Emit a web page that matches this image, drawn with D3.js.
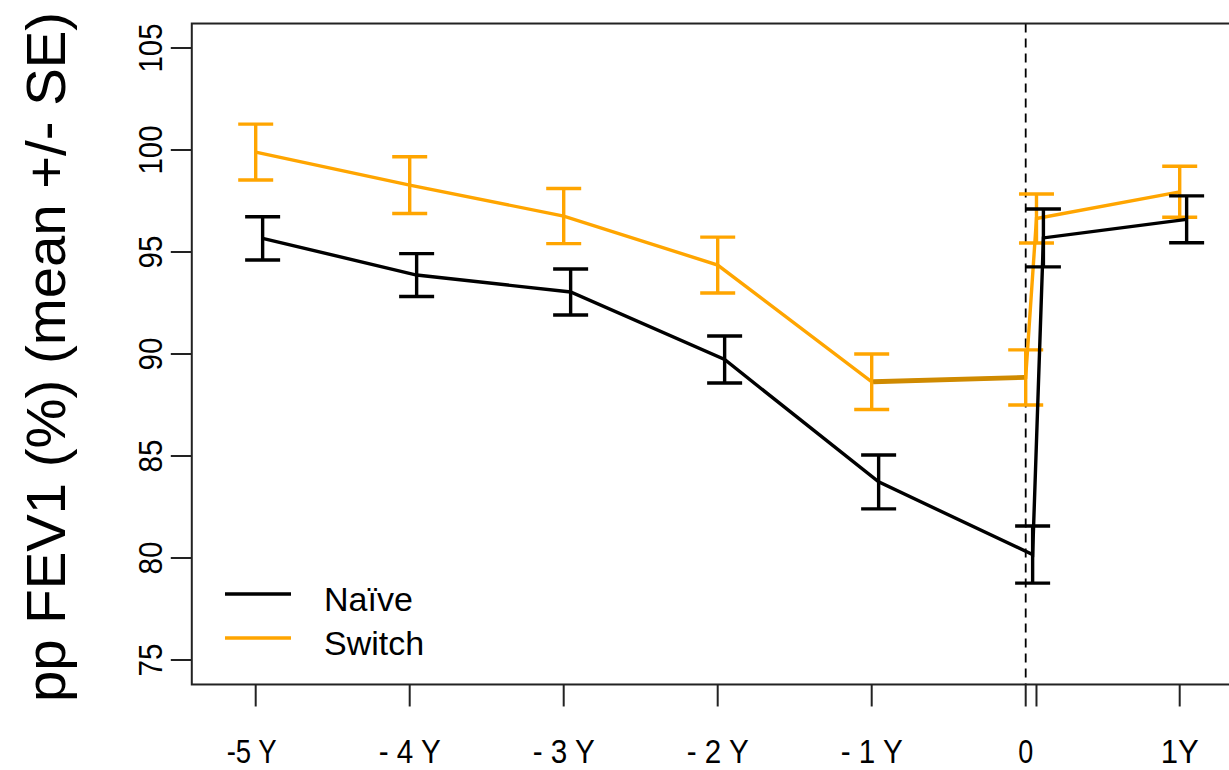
<!DOCTYPE html>
<html>
<head>
<meta charset="utf-8">
<script src="https://cdn.jsdelivr.net/npm/d3@7"></script>
<style>
  html, body { margin: 0; padding: 0; background: #fff; }
  svg { display: block; }
  text { font-family: "Liberation Sans", Arial, sans-serif; fill: #000; }
</style>
</head>
<body>
<svg id="chart" width="1229" height="770"></svg>
<script>
// ---- data ----
const xPositions = [-5, -4, -3, -2, -1, 0, 0.07, 1];
const xTickLabels = ["-5 Y", "- 4 Y", "- 3 Y", "- 2 Y", "- 1 Y", "0", "", "1Y"];
const yTicks = [75, 80, 85, 90, 95, 100, 105];
const naiveMean = [95.67, 93.87, 93.04, 89.73, 83.73, 80.17, 95.69, 96.6];
const naiveSE   = [1.06, 1.05, 1.13, 1.15, 1.32, 1.40, 1.42, 1.15];
const switchMean = [99.9, 98.28, 96.76, 94.36, 88.64, 88.85, 96.64, 97.95];
const switchSE   = [1.37, 1.39, 1.35, 1.37, 1.36, 1.35, 1.20, 1.25];
const seriesNames = ["Naïve", "Switch"];
const naiveOffset = 0.045;

// ---- scales ----
const svg = d3.select("#chart");
const x = d3.scaleLinear().domain([-5, 0]).range([255.7, 1025.7]);
const y = d3.scaleLinear().domain([75, 105]).range([660, 48]);

const frameLeft = x(-5.415), frameRight = x(1.36);
const frameTop = y(106.2), frameBottom = y(73.8);

const colNaive = "#000000", colSwitch = "#FFA500", colSwitchDark = "#CF8A00";
const LW = 3.4;

// dashed reference line at 0
svg.append("line")
  .attr("x1", x(0)).attr("x2", x(0))
  .attr("y1", frameTop).attr("y2", frameBottom)
  .attr("stroke", "#000").attr("stroke-width", 1.8)
  .attr("stroke-dasharray", "9,6");

function drawSeries(means, ses, offset, color, lw) {
  const pts = xPositions.map((xv, i) => ({ x: x(xv + offset), m: means[i], se: ses[i] }));
  const line = d3.line().x(d => d.x).y(d => y(d.m));
  svg.append("path").datum(pts)
    .attr("d", line).attr("fill", "none")
    .attr("stroke", color).attr("stroke-width", lw)
    .attr("stroke-linejoin", "miter");
  const g = svg.append("g").attr("stroke", color).attr("stroke-width", lw);
  pts.forEach(d => {
    g.append("line").attr("x1", d.x).attr("x2", d.x).attr("y1", y(d.m - d.se)).attr("y2", y(d.m + d.se));
    g.append("line").attr("x1", d.x - 17.5).attr("x2", d.x + 17.5).attr("y1", y(d.m - d.se)).attr("y2", y(d.m - d.se));
    g.append("line").attr("x1", d.x - 17.5).attr("x2", d.x + 17.5).attr("y1", y(d.m + d.se)).attr("y2", y(d.m + d.se));
  });
  return pts;
}

const sp = drawSeries(switchMean, switchSE, 0, colSwitch, LW);
// darker overlaid segment between -1Y and 0 for Switch
svg.append("line")
  .attr("x1", sp[4].x + 1.5).attr("x2", sp[5].x - 1.5)
  .attr("y1", y(switchMean[4])).attr("y2", y(switchMean[5]))
  .attr("stroke", colSwitchDark).attr("stroke-width", 4.8);
drawSeries(naiveMean, naiveSE, naiveOffset, colNaive, LW);

// frame
svg.append("rect")
  .attr("x", frameLeft).attr("y", frameTop)
  .attr("width", frameRight - frameLeft).attr("height", frameBottom - frameTop)
  .attr("fill", "none").attr("stroke", "#222").attr("stroke-width", 2);

// y axis
const yAxis = svg.append("g");
yTicks.forEach(t => {
  yAxis.append("line").attr("x1", frameLeft - 21).attr("x2", frameLeft)
    .attr("y1", y(t)).attr("y2", y(t)).attr("stroke", "#222").attr("stroke-width", 2);
  yAxis.append("text")
    .attr("transform", `translate(162,${y(t)}) rotate(-90)`)
    .attr("text-anchor", "middle")
    .attr("font-size", 33)
    .attr("textLength", String(t).length === 3 ? 49 : 33)
    .attr("lengthAdjust", "spacingAndGlyphs")
    .text(t);
});

// x axis
const xAxis = svg.append("g");
xPositions.forEach((p, i) => {
  xAxis.append("line").attr("x1", x(p)).attr("x2", x(p))
    .attr("y1", frameBottom).attr("y2", frameBottom + 22)
    .attr("stroke", "#222").attr("stroke-width", 2);
  const lab = xTickLabels[i];
  if (lab) {
    const w = lab === "0" ? 15 : lab === "1Y" ? 38 : lab === "-5 Y" ? 50 : 62;
    xAxis.append("text")
      .attr("x", x(p) + (lab === "-5 Y" ? -4 : 0)).attr("y", 763)
      .attr("text-anchor", "middle")
      .attr("font-size", 34)
      .attr("textLength", w).attr("lengthAdjust", "spacingAndGlyphs")
      .text(lab);
  }
});

// y title
svg.append("text")
  .attr("transform", `translate(65,${357}) rotate(-90)`)
  .attr("text-anchor", "middle")
  .attr("font-size", 56)
  .attr("textLength", 690).attr("lengthAdjust", "spacingAndGlyphs")
  .text("pp FEV1 (%)  (mean +/- SE)");

// legend
const legColors = [colNaive, colSwitch];
const legY = [594, 638];
seriesNames.forEach((n, i) => {
  svg.append("line").attr("x1", 225).attr("x2", 291)
    .attr("y1", legY[i]).attr("y2", legY[i])
    .attr("stroke", legColors[i]).attr("stroke-width", LW);
  svg.append("text").attr("x", 324).attr("y", legY[i] + 17)
    .attr("font-size", 34)
    .text(n);
});
</script>
</body>
</html>
